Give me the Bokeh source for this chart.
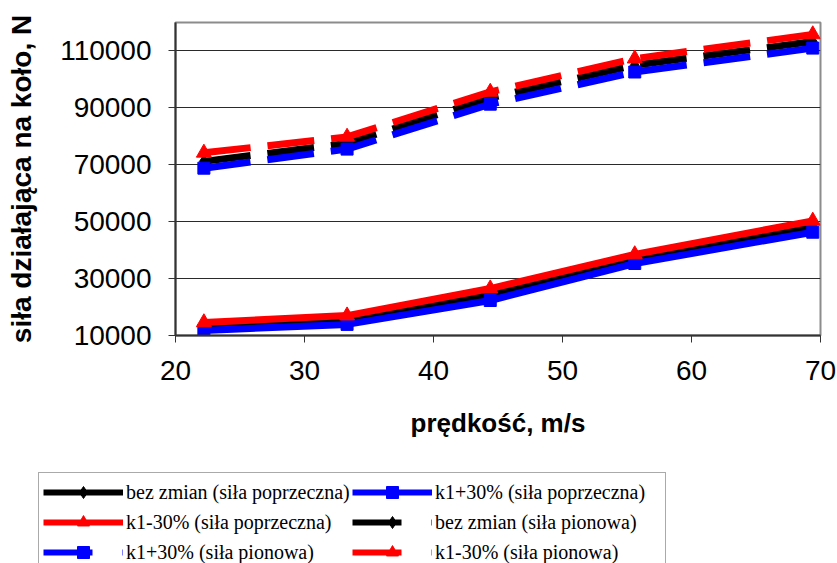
from bokeh.plotting import figure
from bokeh.layouts import column
from bokeh.models import Range1d, FixedTicker, NumeralTickFormatter, Legend, LegendItem
from bokeh.embed import file_html
from bokeh.resources import INLINE

# speed, m/s
predkosc = [22.2, 33.3, 44.4, 55.6, 69.4]
# lateral force (siła poprzeczna)
bez_zmian_poprz = [13000, 15300, 24300, 36900, 48300]
k1_plus_poprz = [11800, 13900, 22300, 35300, 46300]
k1_minus_poprz = [14600, 17000, 26500, 38500, 50300]
# vertical force (siła pionowa)
bez_zmian_pion = [71200, 77500, 93500, 105000, 113300]
k1_plus_pion = [68800, 75500, 91300, 102600, 111000]
k1_minus_pion = [74200, 79800, 95600, 107300, 115800]

x_ticks = [20, 30, 40, 50, 60, 70]
y_ticks = [10000, 30000, 50000, 70000, 90000, 110000]

p = figure(width=837, height=472, output_backend="svg", toolbar_location=None,
           x_range=Range1d(20, 70), y_range=Range1d(10000, 120000),
           min_border_left=175, min_border_right=17, min_border_top=22,
           min_border_bottom=137)
p.background_fill_color = "white"
p.border_fill_color = "white"
p.outline_line_color = "#8c8c8c"
p.outline_line_width = 2

p.xgrid.grid_line_color = None
p.ygrid.grid_line_color = "#2a2a2a"
p.ygrid.grid_line_width = 1

p.xaxis.ticker = FixedTicker(ticks=x_ticks)
p.yaxis.ticker = FixedTicker(ticks=y_ticks)
p.yaxis.formatter = NumeralTickFormatter(format="0")
for ax in (p.xaxis[0], p.yaxis[0]):
    ax.axis_line_color = "#333333"
    ax.axis_line_width = 2
    ax.major_tick_line_color = "#333333"
    ax.major_tick_out = 7
    ax.major_tick_in = 0
    ax.minor_tick_line_color = None
    ax.major_label_text_font = "Liberation Sans"
    ax.major_label_text_font_size = "28px"
    ax.major_label_text_color = "black"
    ax.axis_label_text_font = "Liberation Sans"
    ax.axis_label_text_font_style = "bold"
    ax.axis_label_text_color = "black"

p.xaxis.axis_label_text_font_size = "26px"
p.yaxis.axis_label_text_font_size = "28px"
p.xaxis.axis_label = "prędkość, m/s"
p.yaxis.axis_label = "siła działająca na koło, N"
p.xaxis.major_label_standoff = 18
p.xaxis.axis_label_standoff = 25
p.yaxis.major_label_standoff = 17
p.yaxis.axis_label_standoff = 20

LW = 7
DASH = "47 17"

series = [
    (bez_zmian_poprz, "black", "diamond", 13, "solid", "bez zmian (siła poprzeczna)"),
    (k1_plus_poprz, "#0000ff", "square", 12, "solid", "k1+30% (siła poprzeczna)"),
    (k1_minus_poprz, "#ff0000", "triangle", 15, "solid", "k1-30% (siła poprzeczna)"),
    (bez_zmian_pion, "black", "diamond", 13, DASH, "bez zmian (siła pionowa)"),
    (k1_plus_pion, "#0000ff", "square", 12, DASH, "k1+30% (siła pionowa)"),
    (k1_minus_pion, "#ff0000", "triangle", 15, DASH, "k1-30% (siła pionowa)"),
]

for ys, col, mk, sz, dash, label in series:
    p.line(predkosc, ys, line_color=col, line_width=LW, line_dash=dash,
           line_cap="butt", line_join="round")
    p.scatter(predkosc, ys, marker=mk, size=sz, fill_color=col, line_color=col)

# Legend panel below the chart (its glyphs use the same series, outside its empty frame)
lf = figure(width=837, height=91, output_backend="svg", toolbar_location=None,
            x_range=Range1d(0, 1), y_range=Range1d(0, 1),
            x_axis_type=None, y_axis_type=None,
            min_border_left=38, min_border_right=0, min_border_top=0,
            min_border_bottom=0)
try:
    lf.frame_align = False
except Exception:
    pass
lf.outline_line_color = None
lf.grid.grid_line_color = None
lf.background_fill_color = "white"
lf.border_fill_color = "white"

items = []
for ys, col, mk, sz, dash, label in series:
    ldash = "49 30" if dash != "solid" else "solid"
    ln = lf.line(predkosc, ys, line_color=col, line_width=6, line_dash=ldash,
                 line_cap="butt", line_join="round")
    sc = lf.scatter(predkosc, ys, marker=mk, size=sz, fill_color=col, line_color=col)
    items.append(LegendItem(label=label, renderers=[ln, sc]))

legend = Legend(items=items, orientation="horizontal", ncols=2, location="top_left")
legend.label_text_font = "Liberation Serif"
legend.label_text_font_size = "20px"
legend.label_text_color = "black"
legend.glyph_width = 80
legend.glyph_height = 30
legend.label_height = 30
legend.label_width = 226
legend.label_standoff = 3
legend.spacing = 0
legend.padding = 4
legend.margin = 0
legend.border_line_color = "#555555"
legend.border_line_width = 1
legend.background_fill_alpha = 1
lf.add_layout(legend, "center")

layout = column(p, lf, spacing=0)
open("out.html", "w").write(file_html(layout, INLINE))
